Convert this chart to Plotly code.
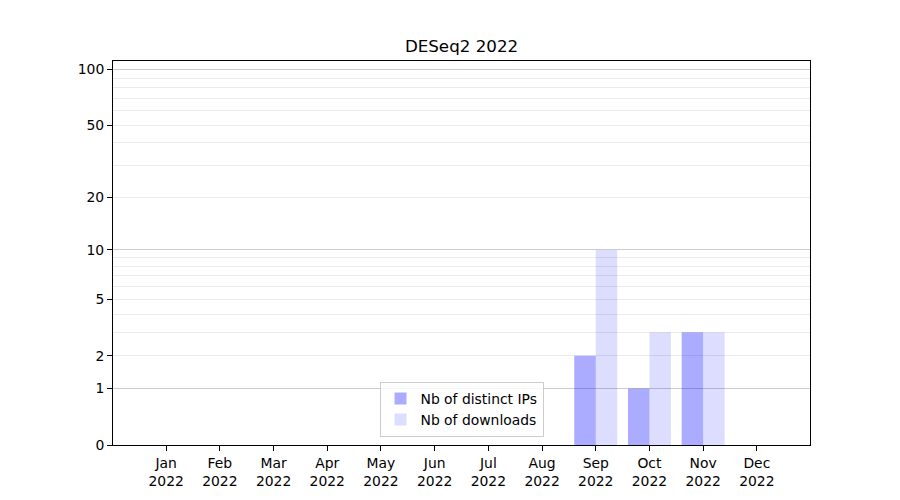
import plotly.graph_objects as go

months = ["Jan", "Feb", "Mar", "Apr", "May", "Jun", "Jul", "Aug", "Sep", "Oct", "Nov", "Dec"]
year = "2022"
distinct_ips = [0, 0, 0, 0, 0, 0, 0, 0, 2, 1, 3, 0]
downloads = [0, 0, 0, 0, 0, 0, 0, 0, 10, 3, 3, 0]
y_tick_values = [0, 1, 2, 5, 10, 20, 50, 100]
y_major_dark = [0, 1, 10, 100]
y_minor_values = [3, 4, 6, 7, 8, 9, 30, 40, 60, 70, 80, 90]

labels = [f"{m}<br>{year}" for m in months]
FONT = "DejaVu Sans"

# log(1+y) scale: shift by 1 on a log axis
shift = lambda v: v + 1

W, H = 892, 492  # page body has an 8px margin

fig = go.Figure()
fig.add_trace(go.Bar(x=labels, y=distinct_ips, base=1, name="Nb of distinct IPs",
                     marker=dict(color="rgba(0,0,255,0.33)", line=dict(width=0))))
fig.add_trace(go.Bar(x=labels, y=downloads, base=1, name="Nb of downloads",
                     marker=dict(color="rgba(0,0,255,0.135)", line=dict(width=0))))
fig.add_trace(go.Scatter(x=[], y=[], yaxis="y2", showlegend=False))

yr = [0, 2.05]
fig.update_layout(
    width=W, height=H,
    margin=dict(l=105, r=90, t=53, b=55),
    paper_bgcolor="white", plot_bgcolor="white",
    font=dict(family=FONT, size=13.9, color="black"),
    title=dict(text="DESeq2 2022", x=0.5, xref="paper", xanchor="center",
               y=1 - 38 / H, yanchor="middle", font=dict(size=16.7, color="black")),
    barmode="group", bargap=0.2, bargroupgap=0,
    xaxis=dict(type="category", range=[-0.99, 11.99], showgrid=False,
               ticks="outside", ticklen=5, tickcolor="black", tickwidth=1,
               showline=True, linecolor="black", linewidth=1, mirror=True,
               tickfont=dict(size=13.9)),
    yaxis=dict(type="log", range=yr,
               tickvals=[shift(v) for v in y_tick_values],
               ticktext=[str(v) for v in y_tick_values],
               ticks="outside", ticklen=5, tickcolor="black", tickwidth=1,
               showline=True, linecolor="black", linewidth=1, mirror=True,
               showgrid=True, gridcolor="#ebebeb", gridwidth=1,
               zeroline=False,
               minor=dict(tickvals=[shift(v) for v in y_minor_values], ticks="",
                          showgrid=True, gridcolor="#ebebeb", gridwidth=1)),
    yaxis2=dict(type="log", range=yr, overlaying="y", anchor="x", side="left",
                tickvals=[shift(v) for v in y_major_dark], showticklabels=False,
                ticks="", showgrid=True, gridcolor="#cccccc", gridwidth=1,
                showline=False, zeroline=False),
    legend=dict(x=0.5, xanchor="center", y=0.021, yanchor="bottom",
                bgcolor="rgba(255,255,255,0.8)", bordercolor="#cccccc", borderwidth=1,
                font=dict(size=13.9), traceorder="normal"),
    showlegend=True,
)

fig.write_html("out.html")
